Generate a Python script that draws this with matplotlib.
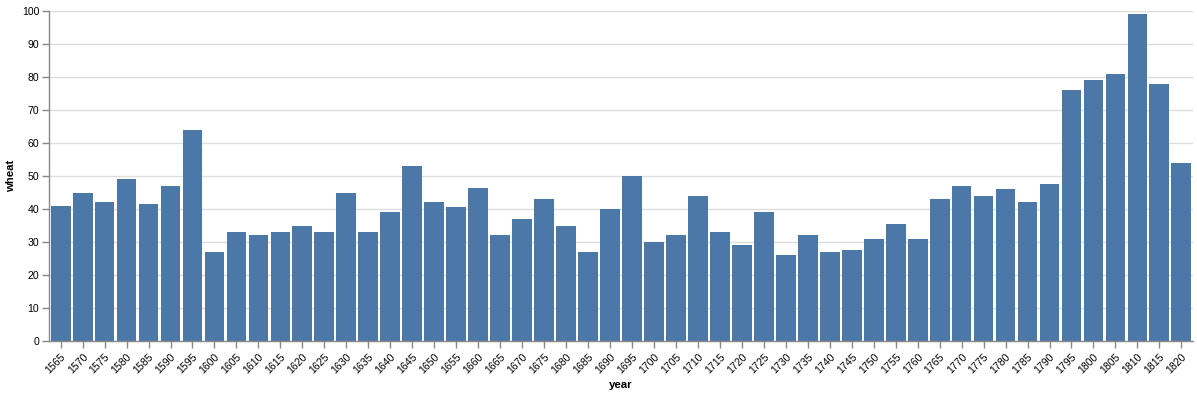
import matplotlib
matplotlib.use("Agg")
import matplotlib.pyplot as plt
import numpy as np

plt.rcParams["font.family"] = ["Liberation Sans", "DejaVu Sans"]

years = list(range(1565, 1825, 5))
wheat = [41, 45, 42, 49, 41.5, 47, 64, 27, 33, 32, 33, 35, 33, 45, 33, 39, 53, 42,
         40.5, 46.5, 32, 37, 43, 35, 27, 40, 50, 30, 32, 44, 33, 29, 39, 26, 32, 27,
         27.5, 31, 35.5, 31, 43, 47, 44, 46, 42, 47.5, 76, 79, 81, 99, 78, 54]

W, H = 1197, 396
fig = plt.figure(figsize=(W / 100, H / 100), dpi=100)
ax = fig.add_axes([49 / W, 1 - 341 / H, (1193 - 49) / W, 330 / H])

x = np.arange(len(years))
ax.bar(x, wheat, width=0.9, color="#4c78a8", zorder=2)
ax.set_xlim(-0.53, len(years) - 0.47)
ax.set_ylim(0, 100)
ax.set_yticks(range(0, 101, 10))
ax.set_xticks(x)
ax.set_xticklabels([str(y) for y in years], rotation=45, ha="right",
                   rotation_mode="anchor", fontsize=7.6)
ax.tick_params(axis="y", labelsize=7.6, color="#888888", length=5, width=1, pad=2)
ax.tick_params(axis="x", color="#888888", length=5, width=1, pad=3)
ax.grid(axis="y", color="#dddddd", linewidth=1, zorder=0)
ax.set_axisbelow(True)
for side in ("top", "right"):
    ax.spines[side].set_visible(False)
for side in ("left", "bottom"):
    ax.spines[side].set_color("#888888")
    ax.spines[side].set_linewidth(1)
ax.set_xlabel("year", fontsize=8.2, fontweight="bold", labelpad=3)
ax.set_ylabel("wheat", fontsize=8.2, fontweight="bold", labelpad=4)

fig.savefig("out.png", dpi=100)
